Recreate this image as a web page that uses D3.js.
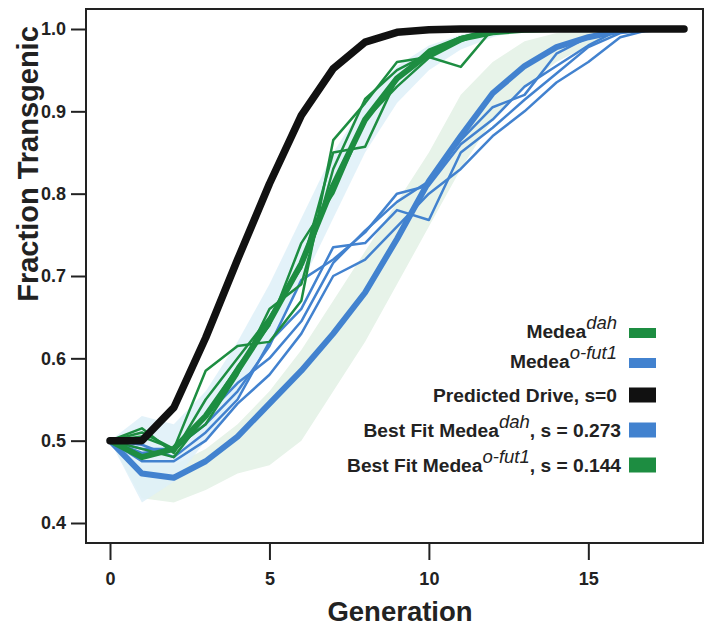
<!DOCTYPE html>
<html>
<head>
<meta charset="utf-8">
<script src="https://cdn.jsdelivr.net/npm/d3@7"></script>
<style>
  body { margin: 0; background: #fff; }
  text { font-family: "Liberation Sans", Arial, sans-serif; }
</style>
</head>
<body>
<div id="chart"></div>
<script>
// generations 0..18
var generations = d3.range(0, 19)

// predicted drive, s = 0
var predicted = [0.5, 0.5, 0.54, 0.625, 0.72, 0.812, 0.895, 0.952, 0.984, 0.996, 0.999, 1, 1, 1, 1, 1, 1, 1, 1]

// best fit curves
var fitBlue = [0.5, 0.46, 0.455, 0.475, 0.505, 0.545, 0.585, 0.63, 0.68, 0.745, 0.815, 0.87, 0.922, 0.955, 0.978, 0.99, 0.998, 1, 1]
var fitGreen = [0.5, 0.48, 0.49, 0.53, 0.585, 0.645, 0.715, 0.81, 0.89, 0.94, 0.97, 0.988, 0.996, 0.999, 1, 1, 1, 1, 1]

// replicate cages, Medea dah (green)
var dahReps = [
  [0.5, 0.51, 0.49, 0.585, 0.615, 0.62, 0.67, 0.865, 0.91, 0.96, 0.966, 0.954, 1, 1, 1, 1, 1, 1, 1],
  [0.5, 0.515, 0.485, 0.55, 0.6, 0.65, 0.71, 0.85, 0.857, 0.94, 0.975, 0.99, 1, 1, 1, 1, 1, 1, 1],
  [0.5, 0.49, 0.48, 0.53, 0.59, 0.64, 0.74, 0.8, 0.89, 0.93, 0.965, 0.985, 1, 1, 1, 1, 1, 1, 1],
  [0.5, 0.505, 0.49, 0.52, 0.58, 0.66, 0.69, 0.83, 0.915, 0.95, 0.97, 0.99, 0.995, 1, 1, 1, 1, 1, 1]
]

// replicate cages, Medea o-fut1 (blue)
var fut1Reps = [
  [0.5, 0.49, 0.49, 0.52, 0.56, 0.615, 0.695, 0.72, 0.753, 0.8, 0.81, 0.86, 0.89, 0.93, 0.955, 0.98, 1, 1, 1],
  [0.5, 0.495, 0.48, 0.51, 0.55, 0.62, 0.66, 0.735, 0.74, 0.78, 0.768, 0.85, 0.88, 0.914, 0.946, 0.978, 0.995, 1, 1],
  [0.5, 0.475, 0.475, 0.5, 0.545, 0.58, 0.63, 0.7, 0.72, 0.76, 0.8, 0.83, 0.87, 0.9, 0.935, 0.96, 0.99, 1, 1],
  [0.5, 0.485, 0.49, 0.53, 0.57, 0.6, 0.645, 0.716, 0.755, 0.79, 0.815, 0.865, 0.905, 0.92, 0.97, 0.99, 1, 1, 1]
]

// shaded envelopes
var bandBlueHi = [0.5, 0.53, 0.52, 0.56, 0.62, 0.69, 0.77, 0.85, 0.91, 0.955, 0.98, 0.993, 1, 1, 1, 1, 1, 1, 1]
var bandBlueLo = [0.5, 0.425, 0.45, 0.5, 0.55, 0.615, 0.69, 0.77, 0.85, 0.91, 0.95, 0.975, 0.99, 1, 1, 1, 1, 1, 1]
var bandGreenHi = [0.5, 0.47, 0.47, 0.49, 0.52, 0.56, 0.61, 0.67, 0.73, 0.79, 0.85, 0.92, 0.96, 0.985, 0.995, 1, 1, 1, 1]
var bandGreenLo = [0.5, 0.43, 0.425, 0.44, 0.46, 0.47, 0.5, 0.56, 0.62, 0.69, 0.76, 0.83, 0.89, 0.93, 0.96, 0.98, 0.995, 1, 1]

var xTicks = [0, 5, 10, 15]
var yTicks = [0.4, 0.5, 0.6, 0.7, 0.8, 0.9, 1.0]

var GREEN = '#1d8d41', BLUE = '#4282cf', BLACK = '#111'

var W = 714, H = 631
var svg = d3.select('#chart').append('svg')
  .attr('width', W).attr('height', H)

var x = d3.scaleLinear().domain([0, 18]).range([110, 684])
var y = d3.scaleLinear().domain([0.4, 1.0]).range([523, 29])

var line = d3.line()
  .x((d, i) => x(generations[i]))
  .y(d => y(d))

function area(lo, hi) {
  return d3.area()
    .x((d, i) => x(generations[i]))
    .y0((d, i) => y(lo[i]))
    .y1((d, i) => y(hi[i]))(lo)
}

svg.append('path').attr('d', area(bandGreenLo, bandGreenHi)).attr('fill', '#e7f3e9')
svg.append('path').attr('d', area(bandBlueLo, bandBlueHi)).attr('fill', '#def0f8').attr('opacity', 0.85)

function drawLine(data, color, w) {
  svg.append('path')
    .attr('d', line(data))
    .attr('fill', 'none')
    .attr('stroke', color)
    .attr('stroke-width', w)
    .attr('stroke-linejoin', 'round')
    .attr('stroke-linecap', 'round')
}

fut1Reps.forEach(r => drawLine(r, BLUE, 2.5))
drawLine(fitBlue, BLUE, 6)
dahReps.forEach(r => drawLine(r, GREEN, 2.5))
drawLine(fitGreen, GREEN, 6)
drawLine(predicted, BLACK, 7.5)

// frame
svg.append('rect')
  .attr('x', 86).attr('y', 9)
  .attr('width', 703 - 86).attr('height', 543 - 9)
  .attr('fill', 'none').attr('stroke', '#222').attr('stroke-width', 2)

var yAxis = svg.append('g')
  .attr('transform', 'translate(86,0)')
  .call(d3.axisLeft(y).tickValues(yTicks).tickFormat(d3.format('.1f')).tickSize(15).tickPadding(5))
var xAxis = svg.append('g')
  .attr('transform', 'translate(0,543)')
  .call(d3.axisBottom(x).tickValues(xTicks).tickSize(17).tickPadding(12))

;[yAxis, xAxis].forEach(g => {
  g.select('.domain').remove()
  g.selectAll('.tick line').attr('stroke', '#222').attr('stroke-width', 2)
  g.selectAll('.tick text')
    .attr('fill', '#222')
    .style('font-size', '18px')
    .style('font-weight', 'bold')
    .style('font-family', '"Liberation Sans", Arial, sans-serif')
})

svg.append('text')
  .attr('x', 400).attr('y', 621)
  .attr('text-anchor', 'middle')
  .style('font-size', '27.5px').style('font-weight', 'bold').attr('fill', '#222')
  .text('Generation')

svg.append('text')
  .attr('transform', 'translate(38,164) rotate(-90)')
  .attr('text-anchor', 'middle')
  .style('font-size', '29px').style('font-weight', 'bold').attr('fill', '#222')
  .text('Fraction Transgenic')

// legend
var legendRows = [
  {base: 'Medea', sup: 'dah', tail: '', color: GREEN, y: 338, h: 10},
  {base: 'Medea', sup: 'o-fut1', tail: '', color: BLUE, y: 368, h: 10},
  {base: 'Predicted Drive, s=0', sup: '', tail: '', color: BLACK, y: 402, h: 15},
  {base: 'Best Fit Medea', sup: 'dah', tail: ', s = 0.273', color: BLUE, y: 437, h: 15},
  {base: 'Best Fit Medea', sup: 'o-fut1', tail: ', s = 0.144', color: GREEN, y: 472, h: 15}
]

var leg = svg.append('g')
legendRows.forEach(r => {
  var t = leg.append('text')
    .attr('x', r.tail ? 621 : 617).attr('y', r.y)
    .attr('text-anchor', 'end')
    .attr('fill', '#222')
    .style('font-size', '19.2px').style('font-weight', 'bold')
  t.append('tspan').text(r.base)
  if (r.sup) {
    t.append('tspan').attr('dy', -9)
      .style('font-size', '18.5px').style('font-style', 'italic').style('font-weight', 'normal')
      .text(r.sup)
  }
  if (r.tail) {
    t.append('tspan').attr('dy', 9).text(r.tail)
  }
  leg.append('rect')
    .attr('x', 629).attr('y', r.y - 5 - r.h / 2 - (r.h > 10 ? 2 : 0))
    .attr('width', 27).attr('height', r.h)
    .attr('fill', r.color)
})
</script>
</body>
</html>
